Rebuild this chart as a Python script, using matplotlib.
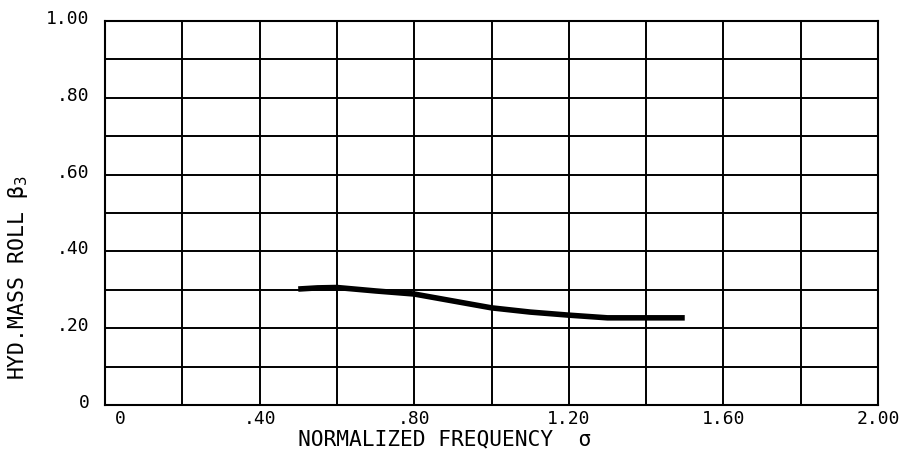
import matplotlib
matplotlib.use("Agg")
import matplotlib.pyplot as plt
from matplotlib.transforms import ScaledTranslation

# curve
freq = [0.50, 0.55, 0.60, 0.70, 0.80, 0.90, 1.00, 1.10, 1.20, 1.30, 1.40, 1.50]
beta3 = [0.302, 0.305, 0.306, 0.297, 0.289, 0.271, 0.253, 0.242, 0.234, 0.227, 0.227, 0.227]

xticks = [0.0, 0.2, 0.4, 0.6, 0.8, 1.0, 1.2, 1.4, 1.6, 1.8, 2.0]
xticklabels = ["0", "", ".40", "", ".80", "", "1.20", "", "1.60", "", "2.00"]
yticks = [0.0, 0.1, 0.2, 0.3, 0.4, 0.5, 0.6, 0.7, 0.8, 0.9, 1.0]
yticklabels = ["0", "", ".20", "", ".40", "", ".60", "", ".80", "", "1.00"]

plt.rcParams['font.family'] = ['DejaVu Sans Mono', 'DejaVu Sans']

fig = plt.figure(figsize=(9.08, 4.52), dpi=100)
ax = fig.add_axes([105/908, 1 - 406/452, 773/908, 384/452])

ax.plot(freq, beta3, color='black', lw=4, solid_capstyle='butt', zorder=3)

ax.set_xlim(0, 2.0)
ax.set_ylim(0, 1.0)
ax.set_xticks(xticks)
ax.set_xticklabels(xticklabels, fontsize=13)
ax.set_yticks(yticks)
ax.set_yticklabels(yticklabels, fontsize=13)
ax.tick_params(length=0)
ax.tick_params(axis='x', pad=3)
ax.tick_params(axis='y', pad=11)
ax.grid(True, color='black', lw=1.4)
for s in ax.spines.values():
    s.set_linewidth(1.5)

# plotter put the labels a bit off the gridlines
ax.get_xticklabels()[0].set_transform(
    ax.get_xticklabels()[0].get_transform() + ScaledTranslation(0.15, 0, fig.dpi_scale_trans))
for lbl in ax.get_yticklabels():
    lbl.set_transform(lbl.get_transform() + ScaledTranslation(0, 0.05, fig.dpi_scale_trans))

ax.set_xlabel("NORMALIZED FREQUENCY  σ", fontsize=15.3)
ax.xaxis.set_label_coords(0.44, -0.062)
ax.set_ylabel("HYD.MASS ROLL β$_3$", fontsize=15.5)
ax.yaxis.set_label_coords(-0.097, 0.335)

fig.savefig("out.png", dpi=100)
